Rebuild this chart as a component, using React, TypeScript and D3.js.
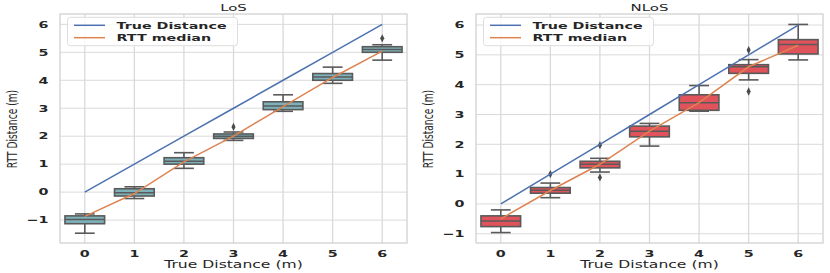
import React, { useEffect, useRef } from 'react';
import * as d3 from 'd3';

// true distances (x categories)
const distances = [0, 1, 2, 3, 4, 5, 6];

// LoS box stats
const losLow = [-1.47, -0.23, 0.85, 1.85, 2.89, 3.89, 4.72];
const losQ1 = [-1.13, -0.14, 1.0, 1.92, 2.95, 4.0, 5.0];
const losMed = [-0.98, -0.02, 1.1, 2.0, 3.08, 4.12, 5.1];
const losQ3 = [-0.85, 0.12, 1.23, 2.08, 3.23, 4.24, 5.2];
const losHigh = [-0.78, 0.19, 1.41, 2.15, 3.48, 4.47, 5.27];
const losOutliers = [[], [], [], [2.33], [], [], [5.5]];
const losMedianLine = [-0.87, -0.05, 1.08, 2.0, 3.06, 4.1, 5.04];

// NLoS box stats
const nlosLow = [-0.96, 0.21, 1.07, 1.94, 3.11, 4.16, 4.83];
const nlosQ1 = [-0.76, 0.36, 1.21, 2.25, 3.14, 4.38, 5.03];
const nlosMed = [-0.57, 0.46, 1.33, 2.44, 3.39, 4.6, 5.35];
const nlosQ3 = [-0.4, 0.55, 1.43, 2.61, 3.66, 4.67, 5.51];
const nlosHigh = [-0.2, 0.7, 1.53, 2.7, 3.97, 4.84, 6.02];
const nlosOutliers = [[], [1.0], [1.97, 0.89], [], [], [5.16, 3.77], []];
const nlosMedianLine = [-0.5, 0.45, 1.33, 2.44, 3.4, 4.6, 5.32];

const yTicks = [-1, 0, 1, 2, 3, 4, 5, 6];

const SX = 1.3;
const SY = 0.83;

export default function App() {
  const ref = useRef<SVGSVGElement>(null);

  useEffect(() => {
    if (!ref.current) return;
    const svg = d3.select(ref.current);
    svg.selectAll('*').remove();

    const panels = [
      { title: 'LoS', left: 60, right: 407, yDom: [-1.82, 6.37], fill: '#7db2ba',
        low: losLow, q1: losQ1, med: losMed, q3: losQ3, high: losHigh, out: losOutliers, line: losMedianLine },
      { title: 'NLoS', left: 476, right: 823, yDom: [-1.31, 6.37], fill: '#e0535b',
        low: nlosLow, q1: nlosQ1, med: nlosMed, q3: nlosQ3, high: nlosHigh, out: nlosOutliers, line: nlosMedianLine },
    ];
    const top = 14, bottom = 243;

    // stretched text helper (the source figure is squashed vertically)
    const txt = (g: any, x: number, y: number, s: string, size: number, weight: string, anchor: string, rot = false) =>
      g.append('text')
        .attr('transform', `translate(${x},${y}) scale(${SX},${SY})${rot ? ' rotate(-90)' : ''}`)
        .attr('font-family', 'DejaVu Sans')
        .attr('font-size', size)
        .attr('font-weight', weight)
        .attr('text-anchor', anchor)
        .attr('fill', '#262626')
        .text(s);

    panels.forEach(p => {
      const g = svg.append('g');
      const x = d3.scaleLinear().domain([-0.5, 6.5]).range([p.left, p.right]);
      const y = d3.scaleLinear().domain(p.yDom).range([bottom, top]);
      const u = x(1) - x(0);

      // grid
      g.selectAll('.gx').data(distances).join('line')
        .attr('x1', d => x(d)).attr('x2', d => x(d)).attr('y1', top).attr('y2', bottom)
        .attr('stroke', '#dadada').attr('stroke-width', 1.3);
      g.selectAll('.gy').data(yTicks).join('line')
        .attr('x1', p.left).attr('x2', p.right).attr('y1', d => y(d)).attr('y2', d => y(d))
        .attr('stroke', '#dadada').attr('stroke-width', 1);
      g.append('rect').attr('x', p.left).attr('y', top).attr('width', p.right - p.left).attr('height', bottom - top)
        .attr('fill', 'none').attr('stroke', '#d2d2d2').attr('stroke-width', 1.3);

      // boxes
      const edge = '#5a5a5a';
      distances.forEach((d, i) => {
        const cx = x(d);
        g.append('line').attr('x1', cx).attr('x2', cx).attr('y1', y(p.high[i])).attr('y2', y(p.q3[i]))
          .attr('stroke', edge).attr('stroke-width', 1.6);
        g.append('line').attr('x1', cx).attr('x2', cx).attr('y1', y(p.q1[i])).attr('y2', y(p.low[i]))
          .attr('stroke', edge).attr('stroke-width', 1.6);
        [p.high[i], p.low[i]].forEach(v =>
          g.append('line').attr('x1', cx - 0.2 * u).attr('x2', cx + 0.2 * u).attr('y1', y(v)).attr('y2', y(v))
            .attr('stroke', edge).attr('stroke-width', 1.6));
        g.append('rect').attr('x', cx - 0.4 * u).attr('width', 0.8 * u)
          .attr('y', y(p.q3[i])).attr('height', y(p.q1[i]) - y(p.q3[i]))
          .attr('fill', p.fill).attr('stroke', edge).attr('stroke-width', 1.6);
        g.append('line').attr('x1', cx - 0.4 * u).attr('x2', cx + 0.4 * u).attr('y1', y(p.med[i])).attr('y2', y(p.med[i]))
          .attr('stroke', edge).attr('stroke-width', 1.5);
        p.out[i].forEach((v: number) =>
          g.append('path').attr('d', d3.symbol(d3.symbolDiamond, 20)())
            .attr('transform', `translate(${cx},${y(v)}) scale(0.85,1)`).attr('fill', '#4a4a4a'));
      });

      // lines
      const ln = d3.line<number>().x((_, i) => x(distances[i])).y(v => y(v));
      g.append('path').attr('d', ln(distances)).attr('fill', 'none').attr('stroke', '#4c72b0').attr('stroke-width', 1.5);
      g.append('path').attr('d', ln(p.line)).attr('fill', 'none').attr('stroke', '#dd8452').attr('stroke-width', 1.5);

      // ticks labels
      distances.forEach(d => txt(g, x(d), 256.5, String(d), 11, 'bold', 'middle'));
      yTicks.forEach(t => txt(g, p.left - 11.5, y(t) + 3.3, t < 0 ? '\u2212' + Math.abs(t) : String(t), 11, 'bold', 'end'));

      // labels
      txt(g, (p.left + p.right) / 2, 10.5, p.title, 11.5, 'normal', 'middle');
      txt(g, (p.left + p.right) / 2, 267.5, 'True Distance (m)', 12, 'normal', 'middle');
      txt(g, p.left - 43, 129, 'RTT Distance (m)', 11, 'normal', 'middle', true);

      // legend
      const lx = p.left + 7.5;
      g.append('rect').attr('x', lx).attr('y', 17.3).attr('width', 170).attr('height', 28.4).attr('rx', 3)
        .attr('fill', 'white').attr('fill-opacity', 0.85).attr('stroke', '#dddddd').attr('stroke-width', 1);
      [['True Distance', '#4c72b0', 25.3], ['RTT median', '#dd8452', 37.7]].forEach(([name, col, ly]: any) => {
        g.append('line').attr('x1', lx + 6.5).attr('x2', lx + 37.5).attr('y1', ly).attr('y2', ly)
          .attr('stroke', col).attr('stroke-width', 1.5);
        txt(g, lx + 49, ly + 3.6, name, 11, 'bold', 'start');
      });
    });
  }, []);

  return (
    <div style={{ position: 'fixed', left: 0, top: 0, background: 'white' }}>
      <svg ref={ref} width={830} height={273} style={{ display: 'block' }} />
    </div>
  );
}
